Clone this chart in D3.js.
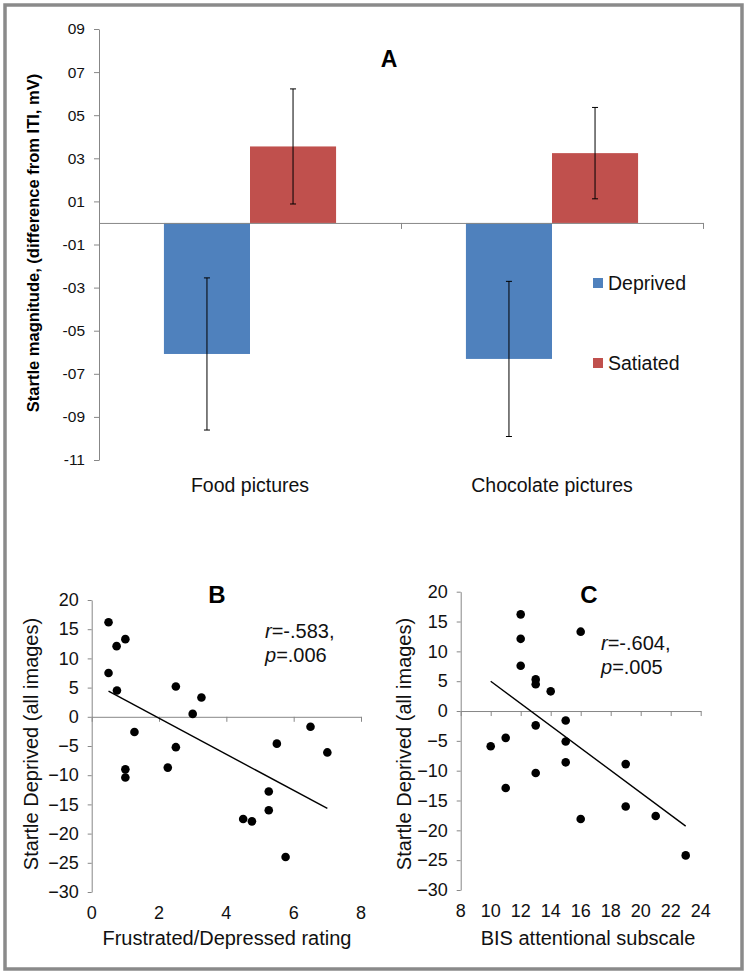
<!DOCTYPE html>
<html>
<head>
<meta charset="utf-8">
<script src="https://cdn.jsdelivr.net/npm/d3@7"></script>
<style>
  html, body { margin: 0; padding: 0; background: #fff; }
  svg { display: block; }
  text { font-family: "Liberation Sans", Arial, Helvetica, sans-serif; }
</style>
</head>
<body>
<svg id="chart" width="748" height="975"></svg>
<script>
// ---------- Panel A data ----------
const categoriesA = ["Food pictures", "Chocolate pictures"];
const seriesA = ["Deprived", "Satiated"];
const deprivedMean = [-0.608, -0.631];
const deprivedErr = [0.353, 0.360];
const satiatedMean = [0.355, 0.324];
const satiatedErr = [0.267, 0.212];
const ticksA = [0.9, 0.7, 0.5, 0.3, 0.1, -0.1, -0.3, -0.5, -0.7, -0.9, -1.1];

// ---------- Panel B data ----------
const frustRating = [0.5, 0.74, 1.0, 0.5, 0.75, 1.27, 2.5, 3.0, 3.26, 2.5, 2.26, 1.0, 1.0, 5.5, 6.5, 7.0, 5.26, 5.26, 4.5, 4.76, 5.76];
const startleB = [16.2, 12.1, 13.3, 7.5, 4.5, -2.6, 5.2, 0.5, 3.3, -5.2, -8.7, -9.0, -10.4, -4.6, -1.7, -6.1, -12.8, -16.0, -17.5, -17.9, -24.0];
const trendBx = [0.5, 7.0];
const trendBy = [4.4, -15.7];
const ticksBx = [0, 2, 4, 6, 8];

// ---------- Panel C data ----------
const bisScore = [12, 12, 16, 12, 13, 13, 14, 13, 15, 11, 10, 15, 15, 13, 19, 11, 16, 19, 21, 23];
const startleC = [16.2, 12.1, 13.3, 7.6, 5.3, 4.5, 3.3, -2.4, -1.6, -4.5, -5.9, -5.1, -8.6, -10.4, -8.9, -12.9, -18.1, -16.0, -17.6, -24.2];
const trendCx = [10, 23];
const trendCy = [5.0, -19.3];
const ticksCx = [8, 10, 12, 14, 16, 18, 20, 22, 24];
const ticksScatterY = [20, 15, 10, 5, 0, -5, -10, -15, -20, -25, -30];

const colors = { Deprived: "#4f81bd", Satiated: "#c0504d" };
const axisGray = "#878787";

const svg = d3.select("#chart");

// outer frame
svg.append("rect").attr("x", 5).attr("y", 5).attr("width", 737).attr("height", 964)
  .attr("fill", "none").attr("stroke", "#8a8a8a").attr("stroke-width", 3.5);

// ================= PANEL A =================
const gA = svg.append("g");
const yA = d3.scaleLinear().domain([-1.1, 0.9]).range([460, 29]);
const xA = d3.scaleBand().domain(categoriesA).range([99, 703]).paddingInner(0.43).paddingOuter(0.215);
const xInner = d3.scaleBand().domain(seriesA).range([0, xA.bandwidth()]);
const fmtA = d => (d < 0 ? "-" : "") + String(Math.round(Math.abs(d) * 10)).padStart(2, "0");

const yAxisA = gA.append("g").attr("transform", "translate(99,0)")
  .call(d3.axisLeft(yA).tickValues(ticksA).tickFormat(fmtA).tickSize(5).tickSizeOuter(0).tickPadding(9));
yAxisA.selectAll("path,line").attr("stroke", axisGray);
yAxisA.selectAll("text").attr("font-size", 15.5).attr("fill", "#111");

// bars
const barData = [];
categoriesA.forEach((c, i) => {
  barData.push({ cat: c, s: "Deprived", v: deprivedMean[i], e: deprivedErr[i] });
  barData.push({ cat: c, s: "Satiated", v: satiatedMean[i], e: satiatedErr[i] });
});
gA.selectAll("rect.bar").data(barData).join("rect").attr("class", "bar")
  .attr("x", d => xA(d.cat) + xInner(d.s))
  .attr("width", xInner.bandwidth())
  .attr("y", d => yA(Math.max(0, d.v)))
  .attr("height", d => Math.abs(yA(d.v) - yA(0)))
  .attr("fill", d => colors[d.s]);

// x axis at zero
const xBound = d3.scaleLinear().domain([0, 2]).range([99, 703]);
const xAxisA = gA.append("g").attr("transform", `translate(0,${yA(0)})`)
  .call(d3.axisBottom(xBound).tickValues([0, 1, 2]).tickFormat("").tickSize(6).tickSizeOuter(0));
xAxisA.selectAll("path,line").attr("stroke", axisGray);

// error bars
const eb = gA.selectAll("g.err").data(barData).join("g").attr("class", "err")
  .attr("transform", d => `translate(${xA(d.cat) + xInner(d.s) + xInner.bandwidth() / 2},0)`);
eb.append("line").attr("y1", d => yA(d.v + d.e)).attr("y2", d => yA(d.v - d.e)).attr("stroke", "#000").attr("stroke-width", 1);
eb.append("line").attr("x1", -3).attr("x2", 3).attr("y1", d => yA(d.v + d.e)).attr("y2", d => yA(d.v + d.e)).attr("stroke", "#000");
eb.append("line").attr("x1", -3).attr("x2", 3).attr("y1", d => yA(d.v - d.e)).attr("y2", d => yA(d.v - d.e)).attr("stroke", "#000");

// category labels
gA.selectAll("text.cat").data(categoriesA).join("text").attr("class", "cat")
  .attr("x", d => xA(d) + xA.bandwidth() / 2).attr("y", 492)
  .attr("text-anchor", "middle").attr("font-size", 19.5).attr("fill", "#111").text(d => d);

// title A
gA.append("text").attr("x", 389).attr("y", 67).attr("text-anchor", "middle")
  .attr("font-size", 23).attr("font-weight", "bold").text("A");

// y title
gA.append("text").attr("transform", "translate(33,243) rotate(-90)").attr("dy", "0.35em")
  .attr("text-anchor", "middle").attr("font-size", 16.5).attr("font-weight", "bold")
  .text("Startle magnitude, (difference from ITI, mV)");

// legend
const leg = gA.selectAll("g.leg").data(seriesA).join("g").attr("class", "leg")
  .attr("transform", (d, i) => `translate(593,${283 + i * 80})`);
leg.append("rect").attr("x", 0).attr("y", -5).attr("width", 10).attr("height", 10).attr("fill", d => colors[d]);
leg.append("text").attr("x", 15).attr("dy", "0.35em").attr("font-size", 19.5).attr("fill", "#111").text(d => d);

// ================= SCATTER PANELS =================
function scatter(opts) {
  const g = svg.append("g");
  const x = d3.scaleLinear().domain(opts.xDomain).range(opts.xRange);
  const y = d3.scaleLinear().domain([-30, 20]).range(opts.yRange);

  const ya = g.append("g").attr("transform", `translate(${opts.xRange[0]},0)`)
    .call(d3.axisLeft(y).tickValues(ticksScatterY).tickSize(4).tickSizeOuter(0).tickPadding(9));
  ya.selectAll("path,line").attr("stroke", axisGray);
  ya.selectAll("text").attr("font-size", 18).attr("fill", "#111");

  const xa = g.append("g").attr("transform", `translate(0,${y(0)})`)
    .call(d3.axisBottom(x).tickValues(opts.xTicks).tickFormat("").tickSize(5).tickSizeOuter(0));
  xa.selectAll("path,line").attr("stroke", axisGray);

  g.selectAll("text.xt").data(opts.xTicks).join("text").attr("class", "xt")
    .attr("x", d => x(d)).attr("y", y(-30) + 27).attr("text-anchor", "middle")
    .attr("font-size", 18).attr("fill", "#111").text(d => d);

  g.append("line")
    .attr("x1", x(opts.tx[0])).attr("y1", y(opts.ty[0]))
    .attr("x2", x(opts.tx[1])).attr("y2", y(opts.ty[1]))
    .attr("stroke", "#000").attr("stroke-width", 1.4);

  g.selectAll("circle").data(opts.xs.map((v, i) => [v, opts.ys[i]])).join("circle")
    .attr("cx", d => x(d[0])).attr("cy", d => y(d[1])).attr("r", 4.3).attr("fill", "#000");

  g.append("text").attr("x", opts.letterX).attr("y", 603).attr("text-anchor", "middle")
    .attr("font-size", 24).attr("font-weight", "bold").text(opts.letter);

  const st = g.append("text").attr("x", opts.statX).attr("y", opts.statY).attr("font-size", 20).attr("fill", "#111");
  st.append("tspan").attr("font-style", "italic").text("r");
  st.append("tspan").text("=" + opts.r + ",");
  const st2 = g.append("text").attr("x", opts.statX).attr("y", opts.statY + 24).attr("font-size", 20).attr("fill", "#111");
  st2.append("tspan").attr("font-style", "italic").text("p");
  st2.append("tspan").text("=" + opts.p);

  g.append("text").attr("x", opts.xLabelX).attr("y", 945).attr("text-anchor", "middle")
    .attr("font-size", 20).attr("fill", "#111").text(opts.xLabel);

  g.append("text").attr("transform", `translate(${opts.yLabelX},744) rotate(-90)`).attr("dy", "0.35em")
    .attr("text-anchor", "middle").attr("font-size", 20).attr("fill", "#111")
    .text("Startle Deprived (all images)");
}

scatter({
  xDomain: [0, 8], xRange: [91.7, 361], yRange: [892, 600], xTicks: ticksBx,
  xs: frustRating, ys: startleB, tx: trendBx, ty: trendBy,
  letter: "B", letterX: 217, statX: 265, statY: 638, r: "-.583", p: ".006",
  xLabel: "Frustrated/Depressed rating", xLabelX: 227, yLabelX: 31
});

scatter({
  xDomain: [8, 24], xRange: [460.7, 700.7], yRange: [890, 591.7], xTicks: ticksCx,
  xs: bisScore, ys: startleC, tx: trendCx, ty: trendCy,
  letter: "C", letterX: 589, statX: 601, statY: 650, r: "-.604", p: ".005",
  xLabel: "BIS attentional subscale", xLabelX: 588, yLabelX: 404
});
</script>
</body>
</html>
